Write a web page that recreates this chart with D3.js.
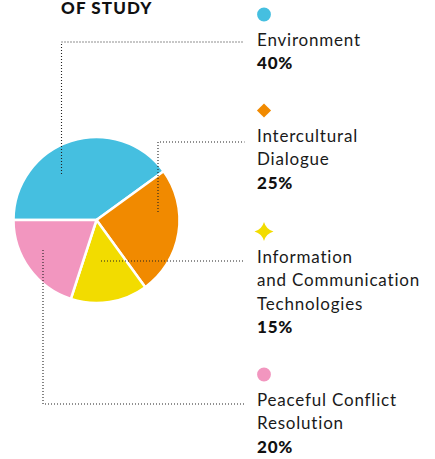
<!DOCTYPE html>
<html>
<head>
<meta charset="utf-8">
<script src="https://cdn.jsdelivr.net/npm/d3@7"></script>
<style>
  body { margin: 0; background: #fff; }
  svg { display: block; font-family: Lato, "Noto Sans", sans-serif; }
</style>
</head>
<body>
<svg id="chart" width="435" height="459"></svg>
<script>
// Data
var categories = ["Environment", "Intercultural Dialogue", "Information and Communication Technologies", "Peaceful Conflict Resolution"]
var values = [40, 25, 15, 20]
var colors = ["#45bfe0", "#f18a00", "#f2dc00", "#f296bf"]
var markers = ["circle", "diamond", "star", "circle"]
var labelLines = [
  ["Environment"],
  ["Intercultural", "Dialogue"],
  ["Information", "and Communication", "Technologies"],
  ["Peaceful Conflict", "Resolution"]
]
var pctLabels = ["40%", "25%", "15%", "20%"]
var title = "OF STUDY"

// Layout
var cx = 96.5, cy = 220, radius = 83
var legendX = 257
var legendTop = [14.5, 110.5, 231.5, 374.5]   // marker centres
var lineH = 23.6
// leader lines: points relative to pie centre, then to the label
var leaders = [
  [[-35, -46], [-35, -178], [148, -178]],
  [[61.5, -8], [61.5, -78], [148, -78]],
  [[4.5, 41], [148, 41]],
  [[-53.5, 30], [-53.5, 184], [148, 184]]
]

var svg = d3.select("#chart")

svg.append("text")
  .attr("x", 61)
  .attr("y", 14)
  .style("font-weight", 900)
  .style("font-size", "17px")
  .style("letter-spacing", "1.1px")
  .attr("fill", "#111")
  .text(title)

// Pie
var pie = d3.pie()
  .sort(null)
  .startAngle(-Math.PI / 2)
  .endAngle(Math.PI * 3 / 2)

var arc = d3.arc().innerRadius(0).outerRadius(radius)

var g = svg.append("g").attr("transform", "translate(" + cx + "," + cy + ")")

g.selectAll("path")
  .data(pie(values))
  .enter()
  .append("path")
  .attr("d", arc)
  .attr("fill", function (d, i) { return colors[i] })
  .attr("stroke", "#fff")
  .attr("stroke-width", 2.5)
  .attr("stroke-linejoin", "round")

// Leader lines (dotted)
var line = d3.line()
g.selectAll(".leader")
  .data(leaders)
  .enter()
  .append("path")
  .attr("class", "leader")
  .attr("d", line)
  .attr("fill", "none")
  .attr("stroke", "#222")
  .attr("stroke-width", 1.1)
  .attr("stroke-dasharray", "1,2")

// Legend
var star4 = {
  draw: function (ctx, size) {
    var r = Math.sqrt(size) * 0.75, k = r * 0.22
    ctx.moveTo(0, -r)
    ctx.quadraticCurveTo(k, -k, r, 0)
    ctx.quadraticCurveTo(k, k, 0, r)
    ctx.quadraticCurveTo(-k, k, -r, 0)
    ctx.quadraticCurveTo(-k, -k, 0, -r)
    ctx.closePath()
  }
}
var symbolType = { circle: d3.symbolCircle, diamond: d3.symbolSquare, star: star4 }

var legend = svg.selectAll(".legend")
  .data(categories)
  .enter()
  .append("g")
  .attr("class", "legend")
  .attr("transform", function (d, i) { return "translate(" + legendX + "," + legendTop[i] + ")" })

legend.append("path")
  .attr("transform", function (d, i) {
    return "translate(7,0)" + (markers[i] == "diamond" ? " rotate(45)" : "")
  })
  .attr("d", function (d, i) {
    var size = markers[i] == "circle" ? 150 : markers[i] == "diamond" ? 100 : 160
    return d3.symbol().type(symbolType[markers[i]]).size(size)()
  })
  .attr("fill", function (d, i) { return colors[i] })

legend.each(function (d, i) {
  var el = d3.select(this)
  labelLines[i].forEach(function (t, j) {
    el.append("text")
      .attr("x", 0)
      .attr("y", 31 + j * lineH)
      .style("font-size", "17px")
      .style("letter-spacing", "0.8px")
      .attr("fill", "#1a1a1a")
      .text(t)
  })
  el.append("text")
    .attr("x", 0)
    .attr("y", 31 + labelLines[i].length * lineH)
    .style("font-size", "17px")
    .style("font-weight", 900)
    .style("letter-spacing", "0.8px")
    .attr("fill", "#111")
    .text(pctLabels[i])
})
</script>
</body>
</html>
